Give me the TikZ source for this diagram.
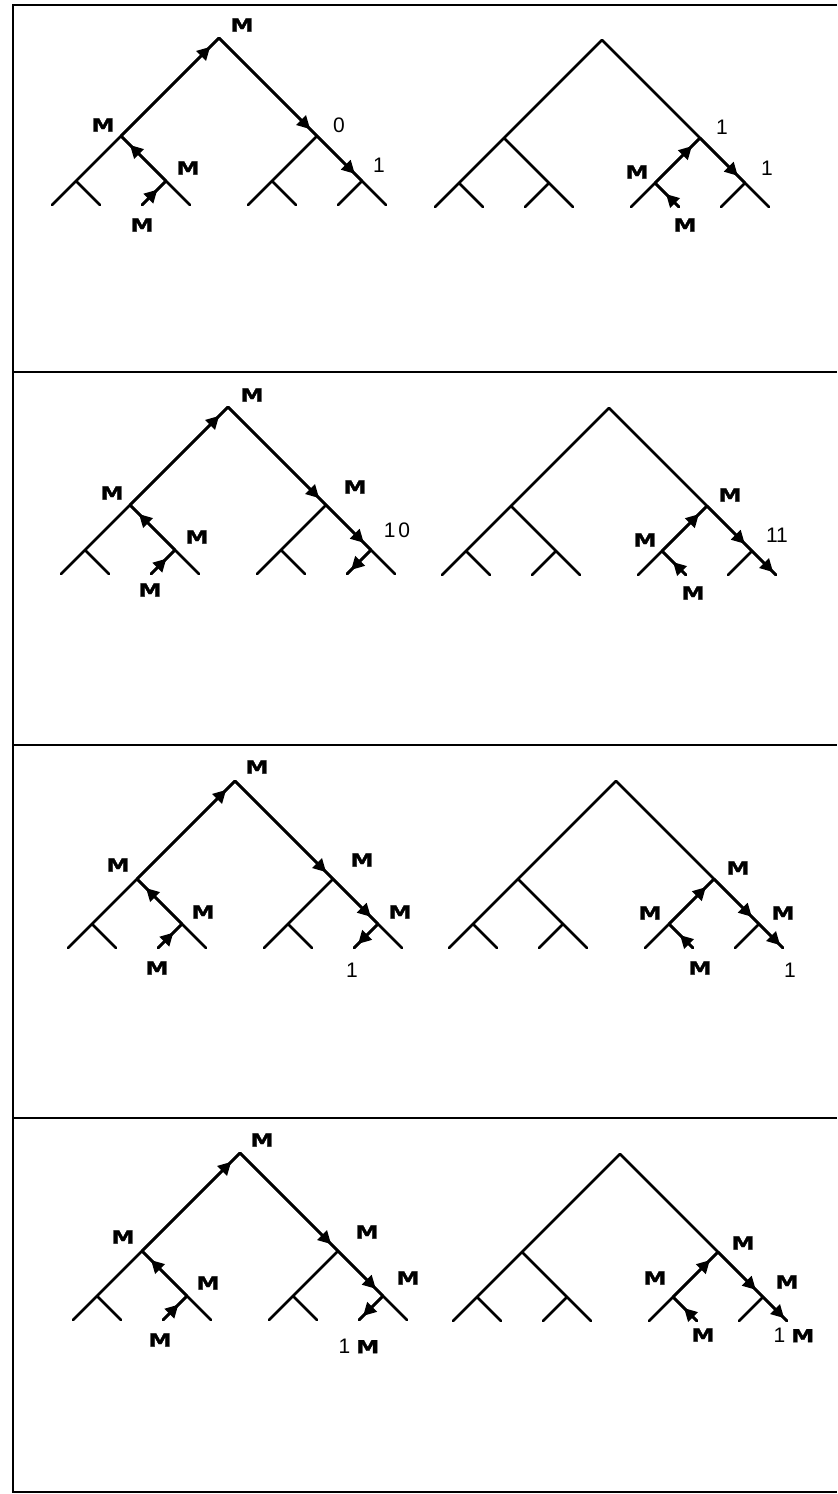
\documentclass[tikz,border=0pt]{standalone}
\usepackage{fontspec}
\usepackage{graphicx}
\setmainfont{Liberation Sans}
\newfontfamily\markfont{DejaVu Sans}[BoldFeatures={FakeBold=1.2}]
\usetikzlibrary{calc,arrows.meta,decorations.markings}

% wide heavy M used as the node marker
\newcommand\Mk{{\markfont\bfseries\fontsize{9}{10}\selectfont\scalebox{1.3}[1]{M}}}

% a full binary tree of depth three, apex at (#2,#3), coordinates prefixed by #1
\newcommand\plantree[3]{%
  \coordinate (#1) at (#2,#3);
  \coordinate (#1l) at ($(#1)+(-98,98)$);
  \coordinate (#1r) at ($(#1)+(98,98)$);
  \coordinate (#1ll) at ($(#1l)+(-45,45)$);
  \coordinate (#1lr) at ($(#1l)+(45,45)$);
  \coordinate (#1rl) at ($(#1r)+(-45,45)$);
  \coordinate (#1rr) at ($(#1r)+(45,45)$);
  \foreach \s in {ll,lr,rl,rr}{
    \coordinate (#1\s a) at ($(#1\s)+(-24,24)$);
    \coordinate (#1\s b) at ($(#1\s)+(24,24)$);
  }
  \draw[edge] (#1lla) -- (#1ll) -- (#1l) -- (#1) -- (#1r) -- (#1rr) -- (#1rrb);
  \draw[edge] (#1llb) -- (#1ll);
  \draw[edge] (#1l) -- (#1lr) -- (#1lrb);
  \draw[edge] (#1lra) -- (#1lr);
  \draw[edge] (#1r) -- (#1rl) -- (#1rla);
  \draw[edge] (#1rlb) -- (#1rl);
  \draw[edge] (#1rra) -- (#1rr);
}

\begin{document}
\begin{tikzpicture}[x=0.5pt,y=-0.5pt,
  edge/.style={line width=1.35pt,line cap=round,line join=round},
  frame/.style={line width=1.4pt,line join=miter},
  arr/.style={edge,postaction={decorate},
    decoration={markings,mark=at position #1 with {\arrow{Triangle[length=6.4pt,width=6.6pt]}}}},
  mk/.style={inner sep=0pt},
  num/.style={font=\fontsize{10.5}{11}\selectfont,inner sep=0pt}]

\useasboundingbox (0,0) rectangle (837,1494);

% outer frame and panel separators
\coordinate (ftl) at (13,5);
\coordinate (ftr) at (837,5);
\coordinate (fbl) at (13,1492);
\coordinate (fbr) at (837,1492);
\draw[frame] (ftr) -- (ftl) -- (fbl) -- (fbr);
\foreach \k/\yy in {1/372,2/745,3/1118}{
  \coordinate (sep\k l) at (13,\yy);
  \coordinate (sep\k r) at (837,\yy);
  \draw[frame] (sep\k l) -- (sep\k r);
}

% ---------------- panel 1 ----------------
\plantree{pa}{219}{38}
\plantree{pb}{602}{40}
\draw[arr=0.91] (pal) -- (pa);
\draw[arr=0.93] (pa) -- (par);
\draw[arr=0.84] (par) -- (parr);
\draw[arr=0.80] (palr) -- (pal);
\draw[arr=0.64] (palra) -- (palr);
\draw[arr=0.82] (pbrl) -- (pbr);
\draw[arr=0.54] (pbrlb) -- (pbrl);
\draw[arr=0.84] (pbr) -- (pbrr);
\node[mk]  (pa-m0) at (242,25)  {\Mk};
\node[mk]  (pa-m1) at (103,125) {\Mk};
\node[num] (pa-n1) at (339,125) {0};
\node[mk]  (pa-m2) at (188,168) {\Mk};
\node[num] (pa-n2) at (379,165) {1};
\node[mk]  (pa-m3) at (142,225) {\Mk};
\node[num] (pb-n1) at (722,127) {1};
\node[mk]  (pb-m1) at (637,172) {\Mk};
\node[num] (pb-n2) at (767,168) {1};
\node[mk]  (pb-m2) at (685,225) {\Mk};

% ---------------- panel 2 ----------------
\plantree{qa}{228}{407}
\plantree{qb}{609}{408}
\draw[arr=0.91] (qal) -- (qa);
\draw[arr=0.93] (qa) -- (qar);
\draw[arr=0.84] (qar) -- (qarr);
\draw[arr=0.83] (qarr) -- (qarra);
\draw[arr=0.80] (qalr) -- (qal);
\draw[arr=0.64] (qalra) -- (qalr);
\draw[arr=0.82] (qbrl) -- (qbr);
\draw[arr=0.54] (qbrlb) -- (qbrl);
\draw[arr=0.84] (qbr) -- (qbrr);
\draw[arr=0.88] (qbrr) -- (qbrrb);
\node[mk]  (qa-m0) at (252,395) {\Mk};
\node[mk]  (qa-m1) at (112,493) {\Mk};
\node[mk]  (qa-m2) at (355,487) {\Mk};
\node[mk]  (qa-m3) at (197,537) {\Mk};
\node[num] (qa-n1) at (397,530) {1\kern1.5pt0};
\node[mk]  (qa-m4) at (150,590) {\Mk};
\node[mk]  (qb-m1) at (730,495) {\Mk};
\node[mk]  (qb-m2) at (645,540) {\Mk};
\node[num] (qb-n1) at (777,535) {11};
\node[mk]  (qb-m3) at (693,593) {\Mk};

% ---------------- panel 3 ----------------
\plantree{ra}{235}{781}
\plantree{rb}{616}{781}
\draw[arr=0.91] (ral) -- (ra);
\draw[arr=0.93] (ra) -- (rar);
\draw[arr=0.84] (rar) -- (rarr);
\draw[arr=0.83] (rarr) -- (rarra);
\draw[arr=0.80] (ralr) -- (ral);
\draw[arr=0.64] (ralra) -- (ralr);
\draw[arr=0.82] (rbrl) -- (rbr);
\draw[arr=0.54] (rbrlb) -- (rbrl);
\draw[arr=0.84] (rbr) -- (rbrr);
\draw[arr=0.88] (rbrr) -- (rbrrb);
\node[mk]  (ra-m0) at (257,767) {\Mk};
\node[mk]  (ra-m1) at (118,865) {\Mk};
\node[mk]  (ra-m2) at (362,860) {\Mk};
\node[mk]  (ra-m3) at (203,912) {\Mk};
\node[mk]  (ra-m4) at (400,912) {\Mk};
\node[mk]  (ra-m5) at (157,968) {\Mk};
\node[num] (ra-n1) at (352,970) {1};
\node[mk]  (rb-m1) at (738,868) {\Mk};
\node[mk]  (rb-m2) at (650,913) {\Mk};
\node[mk]  (rb-m3) at (783,913) {\Mk};
\node[mk]  (rb-m4) at (700,968) {\Mk};
\node[num] (rb-n1) at (790,970) {1};

% ---------------- panel 4 ----------------
\plantree{sa}{240}{1153}
\plantree{sb}{620}{1154}
\draw[arr=0.91] (sal) -- (sa);
\draw[arr=0.93] (sa) -- (sar);
\draw[arr=0.84] (sar) -- (sarr);
\draw[arr=0.83] (sarr) -- (sarra);
\draw[arr=0.80] (salr) -- (sal);
\draw[arr=0.64] (salra) -- (salr);
\draw[arr=0.82] (sbrl) -- (sbr);
\draw[arr=0.54] (sbrlb) -- (sbrl);
\draw[arr=0.84] (sbr) -- (sbrr);
\draw[arr=0.88] (sbrr) -- (sbrrb);
\node[mk]  (sa-m0) at (262,1140) {\Mk};
\node[mk]  (sa-m1) at (123,1237) {\Mk};
\node[mk]  (sa-m2) at (367,1232) {\Mk};
\node[mk]  (sa-m3) at (208,1283) {\Mk};
\node[mk]  (sa-m4) at (408,1278) {\Mk};
\node[mk]  (sa-m5) at (160,1340) {\Mk};
\node[num] (sa-n1) at (359,1346) {1 \Mk};
\node[mk]  (sb-m1) at (743,1243) {\Mk};
\node[mk]  (sb-m2) at (655,1278) {\Mk};
\node[mk]  (sb-m3) at (787,1282) {\Mk};
\node[mk]  (sb-m4) at (703,1335) {\Mk};
\node[num] (sb-n1) at (794,1335) {1 \Mk};

\end{tikzpicture}
\end{document}
